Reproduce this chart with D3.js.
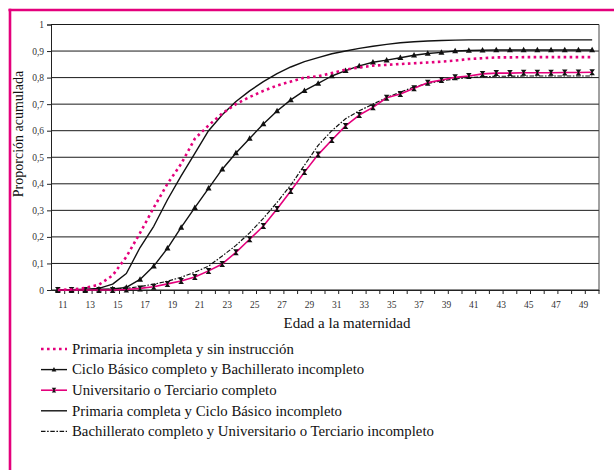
<!DOCTYPE html>
<html>
<head>
<meta charset="utf-8">
<script src="https://cdn.jsdelivr.net/npm/d3@7"></script>
<style>
  body { margin: 0; background: #fff; }
  svg text { font-family: "Liberation Serif", "Times New Roman", serif; }
</style>
</head>
<body>
<div id="chart"></div>
<script>

// Données

var edades = d3.range(11, 51);
var ticksY = [0, 0.1, 0.2, 0.3, 0.4, 0.5, 0.6, 0.7, 0.8, 0.9, 1];

var primariaIncompleta = [0, 0.002, 0.008, 0.02, 0.055, 0.125, 0.215, 0.31, 0.4, 0.475,
	0.57, 0.62, 0.665, 0.7, 0.727, 0.75, 0.77, 0.785, 0.8, 0.805,
	0.817, 0.83, 0.838, 0.845, 0.848, 0.851, 0.854, 0.857, 0.86, 0.864,
	0.87, 0.873, 0.876, 0.876, 0.877, 0.877, 0.877, 0.877, 0.877, 0.877];

var cicloBasico = [0, 0, 0, 0.003, 0.004, 0.01, 0.04, 0.09, 0.157, 0.236,
	0.31, 0.383, 0.455, 0.516, 0.571, 0.625, 0.674, 0.716, 0.751, 0.778,
	0.806, 0.826, 0.844, 0.858, 0.866, 0.875, 0.884, 0.891, 0.895, 0.9,
	0.902, 0.903, 0.904, 0.904, 0.904, 0.904, 0.904, 0.904, 0.904, 0.904];

var universitario = [0, 0, 0, 0, 0, 0.002, 0.006, 0.012, 0.023, 0.034,
	0.049, 0.072, 0.098, 0.142, 0.191, 0.241, 0.305, 0.373, 0.444, 0.51,
	0.565, 0.618, 0.659, 0.688, 0.724, 0.738, 0.76, 0.781, 0.791, 0.801,
	0.806, 0.814, 0.817, 0.817, 0.818, 0.818, 0.818, 0.819, 0.819, 0.82];

var primariaCompleta = [0, 0.001, 0.003, 0.006, 0.022, 0.062, 0.16, 0.24, 0.34, 0.43,
	0.515, 0.6, 0.66, 0.71, 0.75, 0.785, 0.815, 0.84, 0.86, 0.875,
	0.89, 0.9, 0.91, 0.918, 0.925, 0.931, 0.935, 0.938, 0.94, 0.941,
	0.942, 0.942, 0.942, 0.942, 0.942, 0.942, 0.942, 0.942, 0.942, 0.942];

var bachillerato = [0, 0, 0, 0, 0.003, 0.006, 0.013, 0.022, 0.033, 0.048,
	0.067, 0.09, 0.128, 0.168, 0.215, 0.27, 0.33, 0.395, 0.47, 0.545,
	0.6, 0.645, 0.675, 0.7, 0.725, 0.745, 0.765, 0.778, 0.788, 0.795,
	0.8, 0.803, 0.805, 0.805, 0.806, 0.806, 0.806, 0.806, 0.806, 0.806];

var leyenda = ["Primaria incompleta y sin instrucción",
	"Ciclo Básico completo y Bachillerato incompleto",
	"Universitario o Terciario completo",
	"Primaria completa y Ciclo Básico incompleto",
	"Bachillerato completo y Universitario o Terciario incompleto"];


// Options

var magenta = "#e4007c";
var fuente = "'Liberation Serif', 'Times New Roman', serif";
var plot = {"left" : 51, "right" : 599, "top" : 24.5, "bottom" : 290};

var series = [
	{"valores" : primariaIncompleta, "color" : magenta, "width" : 2.6, "dash" : "2.6,3.4", "marker" : null},
	{"valores" : cicloBasico, "color" : "#111", "width" : 1.4, "dash" : null, "marker" : "triangle"},
	{"valores" : universitario, "color" : magenta, "width" : 1.6, "dash" : null, "marker" : "reloj"},
	{"valores" : primariaCompleta, "color" : "#111", "width" : 1.4, "dash" : null, "marker" : null},
	{"valores" : bachillerato, "color" : "#111", "width" : 1.2, "dash" : "4.5,1.6,1.6,1.6", "marker" : null}
];


// Création du svg

var svg = d3.select("#chart")
	.append("svg")
	.attr("width", 614)
	.attr("height", 470)
	.attr("font-family", fuente);

var x = d3.scaleBand()
	.domain(edades)
	.range([plot.left, plot.right]);

var y = d3.scaleLinear()
	.domain([0, 1])
	.range([plot.bottom, plot.top]);

function cx(edad)
{
	return x(edad) + x.bandwidth() / 2;
}


// Cadre magenta

svg.append("line")
	.attr("x1", 8.5).attr("x2", 614)
	.attr("y1", 10).attr("y2", 10)
	.attr("stroke", magenta).attr("stroke-width", 2.6);

svg.append("line")
	.attr("x1", 10).attr("x2", 10)
	.attr("y1", 8.7).attr("y2", 470)
	.attr("stroke", magenta).attr("stroke-width", 2.6);


// Grille et axes

svg.append("g")
	.selectAll("line")
	.data(ticksY)
	.enter()
		.append("line")
		.attr("x1", plot.left)
		.attr("x2", plot.right)
		.attr("y1", function(d){return y(d);})
		.attr("y2", function(d){return y(d);})
		.attr("stroke", "#1a1a1a")
		.attr("stroke-width", 1);

svg.append("line")
	.attr("x1", plot.right).attr("x2", plot.right)
	.attr("y1", plot.top).attr("y2", plot.bottom)
	.attr("stroke", "#444").attr("stroke-width", 1);

var axeY = svg.append("g")
	.attr("transform", "translate(" + plot.left + ",0)")
	.call(d3.axisLeft(y)
		.tickValues(ticksY)
		.tickSize(4)
		.tickFormat(function(d){return String(+d.toFixed(1)).replace(".", ",");}));

var axeX = svg.append("g")
	.attr("transform", "translate(0," + plot.bottom + ")")
	.call(d3.axisBottom(x)
		.tickValues(edades)
		.tickSize(0)
		.tickFormat(""));

// petits traits entre les catégories
axeX.selectAll(".sep")
	.data(edades)
	.enter()
		.append("line")
		.attr("class", "sep")
		.attr("x1", function(d){return x(d) + x.bandwidth();})
		.attr("x2", function(d){return x(d) + x.bandwidth();})
		.attr("y1", 0)
		.attr("y2", 4)
		.attr("stroke", "#222");

axeX.selectAll(".lab")
	.data(edades.filter(function(d){return d % 2 == 1;}))
	.enter()
		.append("text")
		.attr("class", "lab")
		.attr("x", function(d){return cx(d) + 5;})
		.attr("y", 18)
		.attr("text-anchor", "middle")
		.attr("fill", "#333")
		.attr("font-family", fuente)
		.attr("font-size", 9.5)
		.text(function(d){return d;});

svg.selectAll(".domain").attr("stroke", "#222");
axeY.selectAll(".tick line").attr("stroke", "#222");
axeY.attr("font-family", fuente);
axeY.selectAll("text")
	.attr("font-family", fuente)
	.attr("font-size", 9.5)
	.attr("fill", "#333")
	.attr("x", -7);


// Titres des axes

svg.append("text")
	.attr("transform", "translate(23,134) rotate(-90)")
	.attr("text-anchor", "middle")
	.attr("font-family", fuente)
	.attr("font-size", 14)
	.attr("fill", "#111")
	.text("Proporción acumulada");

svg.append("text")
	.attr("x", 347)
	.attr("y", 328)
	.attr("text-anchor", "middle")
	.attr("font-family", fuente)
	.attr("font-size", 15)
	.attr("fill", "#111")
	.text("Edad a la maternidad");


// Courbes

var ligne = d3.line()
	.x(function(d, i){return cx(edades[i]);})
	.y(function(d){return y(d);});

var courbes = svg.append("g");

// ordre de dessin : la ligne pointillée au-dessus
[4, 3, 1, 2, 0].forEach(function(k)
{
	var s = series[k];

	courbes.append("path")
		.datum(s.valores)
		.attr("d", ligne)
		.attr("fill", "none")
		.attr("stroke", s.color)
		.attr("stroke-width", s.width)
		.attr("stroke-linejoin", "round")
		.attr("stroke-dasharray", s.dash);

	if(s.marker)
	{
		courbes.selectAll(".m" + k)
			.data(s.valores)
			.enter()
				.append("path")
				.attr("class", "m" + k)
				.attr("transform", function(d, i){return "translate(" + cx(edades[i]) + "," + y(d) + ")";})
				.attr("d", marcador(s.marker))
				.attr("fill", "#111");
	}
});

function marcador(tipo)
{
	if(tipo == "triangle")
	{
		return "M0,-3.2L3,2.3L-3,2.3Z";
	}
	// sablier
	return "M-2.8,-3L2.8,-3L0.6,0L2.8,3L-2.8,3L-0.6,0Z";
}


// Légende

var leg = svg.append("g")
	.selectAll("g")
	.data(leyenda)
	.enter()
		.append("g")
		.attr("transform", function(d, i){return "translate(0," + (349 + i * 20.6) + ")";});

leg.append("line")
	.attr("x1", 41)
	.attr("x2", 67)
	.attr("y1", 0)
	.attr("y2", 0)
	.attr("stroke", function(d, i){return series[i].color;})
	.attr("stroke-width", function(d, i){return series[i].width;})
	.attr("stroke-dasharray", function(d, i){return series[i].dash;});

leg.filter(function(d, i){return series[i].marker != null;})
	.append("path")
	.attr("transform", "translate(54,0) scale(0.8)")
	.attr("d", function(d){return marcador(series[leyenda.indexOf(d)].marker);})
	.attr("fill", "#111");

leg.append("text")
	.attr("x", 72)
	.attr("y", 4.8)
	.attr("font-family", fuente)
	.attr("font-size", 14.8)
	.attr("fill", "#111")
	.text(function(d){return d;});

</script>
</body>
</html>
